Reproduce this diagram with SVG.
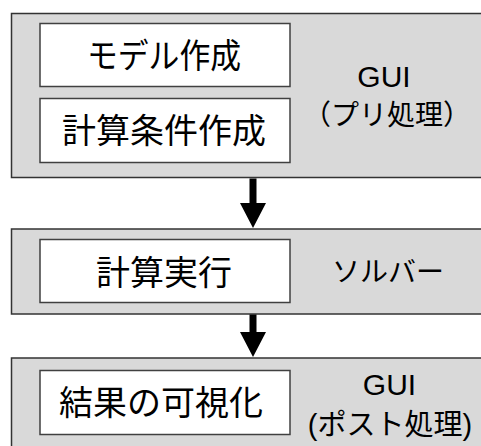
<svg xmlns="http://www.w3.org/2000/svg" width="481" height="446" viewBox="0 0 481 446">
<style>
.outer{fill:#d9d9d9;stroke:#333;stroke-width:1.5}
.inner{fill:#fff;stroke:#404040;stroke-width:1.5}
text{font-family:"Liberation Sans","Noto Sans CJK JP",sans-serif;fill:#000;text-anchor:middle}
.big{font-size:34px}
.lab{font-size:28px}
.gui{font-size:30px}
.arrow{fill:#000}
</style>
<g id="stage-pre">
<rect class="outer" x="11.5" y="13.5" width="480" height="164"/>
<text class="gui" x="384" y="87">GUI</text>
<text class="lab" x="387" y="125">（プリ処理）</text>
</g>
<g id="node-model">
<rect class="inner" x="40" y="23.5" width="250" height="63"/>
<text class="big" x="164" y="68" textLength="154" lengthAdjust="spacingAndGlyphs">モデル作成</text>
</g>
<g id="node-condition">
<rect class="inner" x="40" y="98.5" width="250" height="64"/>
<text class="big" x="164" y="143">計算条件作成</text>
</g>
<g id="stage-solver">
<rect class="outer" x="11.5" y="229" width="480" height="85"/>
<text class="lab" x="388" y="282">ソルバー</text>
</g>
<g id="node-run">
<rect class="inner" x="40" y="239.5" width="250" height="63"/>
<text class="big" x="164" y="285">計算実行</text>
</g>
<g id="stage-post">
<rect class="outer" x="11.5" y="358" width="480" height="100"/>
<text class="gui" x="389.5" y="395">GUI</text>
<text class="lab" x="390" y="435" style="font-size:29px">(ポスト処理)</text>
</g>
<g id="node-viz">
<rect class="inner" x="40" y="370.5" width="250" height="64"/>
<text class="big" x="161" y="415">結果の可視化</text>
</g>
<g id="connectors">
<path class="arrow" d="M249.5 178.5 H256.5 V203 H266 L253 228 L240 203 H249.5 Z"/>
<path class="arrow" d="M249.5 314.5 H256.5 V332 H266 L253 357 L240 332 H249.5 Z"/>
</g>
</svg>
